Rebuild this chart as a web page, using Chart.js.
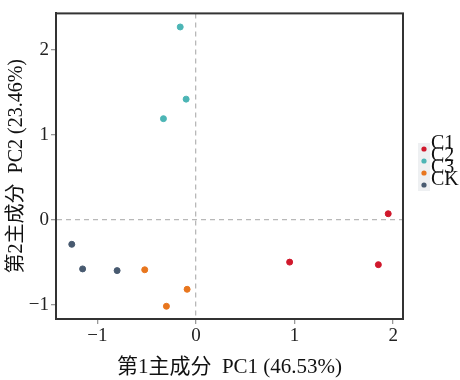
<!DOCTYPE html>
<html>
<head>
<meta charset="utf-8">
<script src="https://cdn.jsdelivr.net/npm/chart.js@4/dist/chart.umd.min.js"></script>
<style>
  html, body { margin: 0; padding: 0; background: #fff; }
</style>
</head>
<body>
<canvas id="c" width="460" height="380"></canvas>
<script>
'use strict';

// Group names and colours
var groups = ['C1', 'C2', 'C3', 'CK'];
var colors = ['#d0182c', '#4cb5b5', '#e8761e', '#485a70'];

// PC1 / PC2 scores
var pc1C1 = [1.95, 0.95, 1.85];
var pc2C1 = [0.07, -0.50, -0.53];
var pc1C2 = [-0.16, -0.10, -0.33];
var pc2C2 = [2.27, 1.42, 1.19];
var pc1C3 = [-0.52, -0.09, -0.30];
var pc2C3 = [-0.59, -0.82, -1.02];
var pc1CK = [-1.26, -1.15, -0.80];
var pc2CK = [-0.29, -0.58, -0.60];

var xTicks = [-1, 0, 1, 2];
var yTicks = [-1, 0, 1, 2];

var xs = [pc1C1, pc1C2, pc1C3, pc1CK];
var ys = [pc2C1, pc2C2, pc2C3, pc2CK];

var FONT = '"Liberation Serif", "Noto Sans CJK SC", serif';

function points(i) {
    return xs[i].map(function (x, j) { return {x: x, y: ys[i][j]}; });
}

// frame round the plot area plus a tight legend on the right
var framePlugin = {
    id: 'frame',
    afterDraw: function (chart) {
        var ctx = chart.ctx;
        var a = chart.chartArea;
        ctx.save();
        ctx.strokeStyle = '#333';
        ctx.lineWidth = 2;
        ctx.strokeRect(a.left, a.top, a.right - a.left, a.bottom - a.top);

        ctx.font = '20px ' + FONT;
        ctx.textBaseline = 'middle';
        groups.forEach(function (g, i) {
            var y = 149 + i * 12;
            ctx.fillStyle = '#eef0f2';
            ctx.fillRect(418, y - 6, 12, 12);
            ctx.fillStyle = colors[i];
            ctx.beginPath();
            ctx.arc(424, y, 2.6, 0, Math.PI * 2);
            ctx.fill();
            ctx.fillStyle = '#111';
            ctx.fillText(g, 431, y - 5);
        });
        ctx.restore();
    }
};

function zeroGrid(ctx) {
    return ctx.tick && ctx.tick.value === 0 ? '#b8b8b8' : 'rgba(0,0,0,0)';
}

function minusLabel(v) {
    return v < 0 ? '\u2212' + Math.abs(v) : String(v);
}

new Chart(document.getElementById('c'), {
    type: 'scatter',
    data: {
        datasets: groups.map(function (g, i) {
            return {
                label: g,
                data: points(i),
                backgroundColor: colors[i],
                borderColor: colors[i],
                pointRadius: 3,
                pointHoverRadius: 3,
            };
        })
    },
    options: {
        responsive: false,
        animation: false,
        devicePixelRatio: 1,
        layout: {
            padding: {top: 10, right: 57, bottom: 0, left: 0},
        },
        plugins: {
            legend: {display: false},
            tooltip: {enabled: false},
        },
        scales: {
            x: {
                type: 'linear',
                min: -1.42,
                max: 2.10,
                afterBuildTicks: function (axis) {
                    axis.ticks = xTicks.map(function (v) { return {value: v}; });
                },
                afterFit: function (axis) { axis.height = 61; },
                ticks: {
                    font: {family: FONT, size: 19},
                    color: '#222',
                    padding: 1,
                    callback: minusLabel,
                },
                grid: {
                    color: zeroGrid,
                    lineWidth: 1.3,
                    tickColor: '#999',
                    tickLength: 5,
                },
                border: {display: true, color: '#333', width: 2, dash: [5, 4]},
                title: {
                    display: true,
                    text: '第1主成分  PC1 (46.53%)',
                    font: {family: FONT, size: 21},
                    color: '#111',
                    padding: {top: 3, bottom: 0},
                },
            },
            y: {
                type: 'linear',
                min: -1.17,
                max: 2.43,
                afterBuildTicks: function (axis) {
                    axis.ticks = yTicks.map(function (v) { return {value: v}; });
                },
                afterFit: function (axis) { axis.width = 56; },
                ticks: {
                    font: {family: FONT, size: 19},
                    color: '#222',
                    padding: 2,
                    callback: minusLabel,
                },
                grid: {
                    color: zeroGrid,
                    lineWidth: 1.3,
                    tickColor: '#999',
                    tickLength: 5,
                },
                border: {display: true, color: '#333', width: 2, dash: [5, 4]},
                title: {
                    display: true,
                    text: '第2主成分  PC2 (23.46%)',
                    font: {family: FONT, size: 20},
                    color: '#111',
                    padding: {top: 5, bottom: 0},
                },
            },
        },
    },
    plugins: [framePlugin],
});
</script>
</body>
</html>
